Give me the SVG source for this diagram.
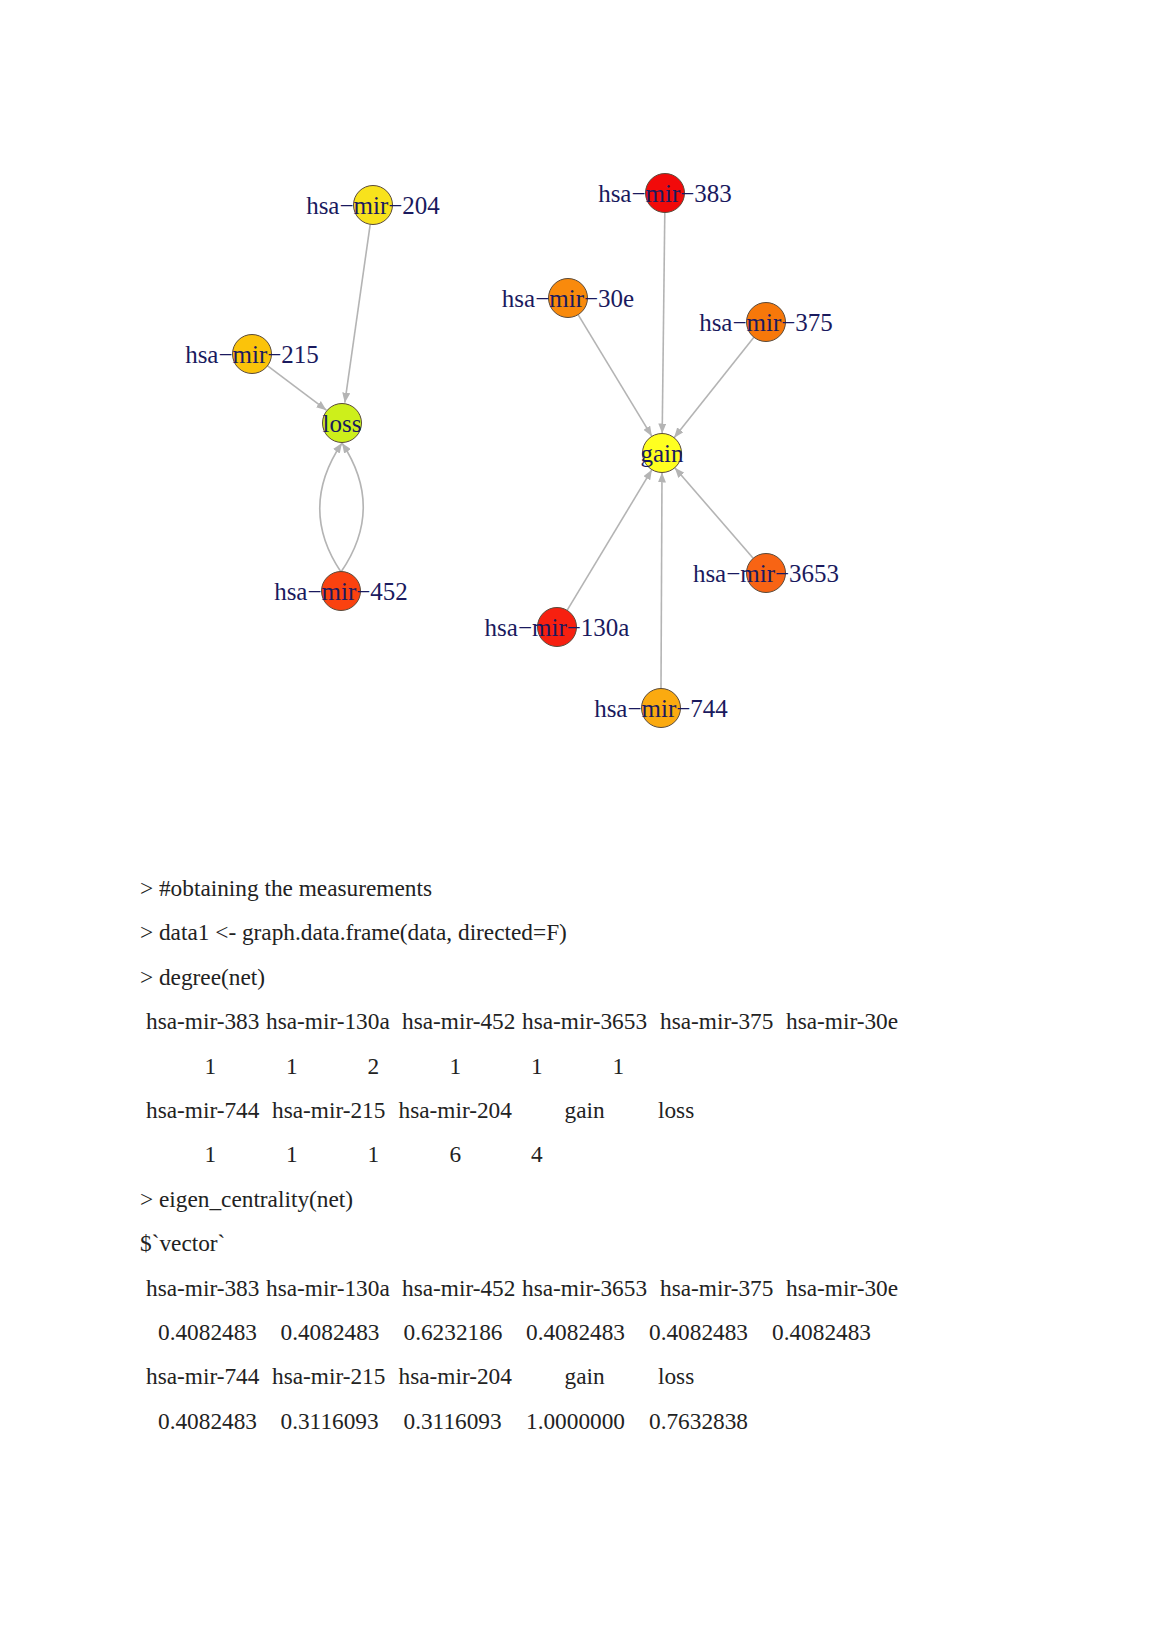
<svg xmlns="http://www.w3.org/2000/svg" width="1158" height="1638" viewBox="0 0 1158 1638">
<style>
.edge{fill:none;stroke:#b4b4b4;stroke-width:1.6}
.node circle{stroke:#5a4a3a;stroke-width:1}
.lbl{font-family:"Liberation Serif","Times New Roman",serif;font-size:25px;fill:#1a1a5e;text-anchor:middle}
.txt{font-family:"Liberation Serif","Times New Roman",serif;font-size:23.3px;fill:#222}
</style>
<defs>
<marker id="arr" markerUnits="userSpaceOnUse" markerWidth="10" markerHeight="8" viewBox="0 0 10 8" refX="10" refY="4" orient="auto">
<path d="M0,0 L10,4 L0,8 z" fill="#b4b4b4"/>
</marker>
</defs>
<rect width="1158" height="1638" fill="#fff"/>
<g id="connectors">
<line class="edge" x1="370.2" y1="224.3" x2="344.8" y2="402.7" marker-end="url(#arr)"/>
<line class="edge" x1="267.6" y1="365.8" x2="326.4" y2="410.2" marker-end="url(#arr)"/>
<path class="edge" d="M341,572 Q298,508 342,443" marker-end="url(#arr)"/>
<path class="edge" d="M341,572 Q385,508 342,443" marker-end="url(#arr)"/>
<line class="edge" x1="664.8" y1="212.5" x2="662.2" y2="433.5" marker-end="url(#arr)"/>
<line class="edge" x1="578.1" y1="314.7" x2="651.9" y2="436.3" marker-end="url(#arr)"/>
<line class="edge" x1="753.9" y1="337.3" x2="674.1" y2="437.7" marker-end="url(#arr)"/>
<line class="edge" x1="753.2" y1="558.3" x2="674.8" y2="467.7" marker-end="url(#arr)"/>
<line class="edge" x1="567.1" y1="610.3" x2="651.9" y2="469.7" marker-end="url(#arr)"/>
<line class="edge" x1="661" y1="688.5" x2="662" y2="472.5" marker-end="url(#arr)"/>
</g>
<g id="n-204" class="node"><circle cx="373" cy="205" r="19.5" fill="#f8e21c"/><text class="lbl" x="373" y="213.5">hsa−mir−204</text></g>
<g id="n-215" class="node"><circle cx="252" cy="354" r="19.5" fill="#fbc30a"/><text class="lbl" x="252" y="362.5">hsa−mir−215</text></g>
<g id="n-loss" class="node"><circle cx="342" cy="423" r="19.5" fill="#cdef1b"/><text class="lbl" x="342" y="431.5">loss</text></g>
<g id="n-452" class="node"><circle cx="341" cy="591" r="19.5" fill="#fa4210"/><text class="lbl" x="341" y="600">hsa−mir−452</text></g>
<g id="n-383" class="node"><circle cx="665" cy="193" r="19.5" fill="#f20a0a"/><text class="lbl" x="665" y="201.5">hsa−mir−383</text></g>
<g id="n-30e" class="node"><circle cx="568" cy="298" r="19.5" fill="#f98a0c"/><text class="lbl" x="568" y="306.5">hsa−mir−30e</text></g>
<g id="n-375" class="node"><circle cx="766" cy="322" r="19.5" fill="#f7780a"/><text class="lbl" x="766" y="330.5">hsa−mir−375</text></g>
<g id="n-gain" class="node"><circle cx="662" cy="453" r="19.5" fill="#ffff20"/><text class="lbl" x="662" y="461.5">gain</text></g>
<g id="n-3653" class="node"><circle cx="766" cy="573" r="19.5" fill="#f86414"/><text class="lbl" x="766" y="581.5">hsa−mir−3653</text></g>
<g id="n-130a" class="node"><circle cx="557" cy="627" r="19.5" fill="#f72010"/><text class="lbl" x="557" y="635.5">hsa−mir−130a</text></g>
<g id="n-744" class="node"><circle cx="661" cy="708" r="19.5" fill="#fbaa10"/><text class="lbl" x="661" y="716.5">hsa−mir−744</text></g>
<g id="console">
<text class="txt" x="140" y="896">&gt; #obtaining the measurements</text>
<text class="txt" x="140" y="940.4">&gt; data1 &lt;- graph.data.frame(data, directed=F)</text>
<text class="txt" x="140" y="984.8">&gt; degree(net)</text>
<text class="txt" y="1029.2"><tspan x="146">hsa-mir-383</tspan><tspan x="266">hsa-mir-130a</tspan><tspan x="402">hsa-mir-452</tspan><tspan x="522">hsa-mir-3653</tspan><tspan x="660">hsa-mir-375</tspan><tspan x="786">hsa-mir-30e</tspan></text>
<text class="txt" y="1073.6"><tspan x="204.5">1</tspan><tspan x="286">1</tspan><tspan x="367.5">2</tspan><tspan x="449.5">1</tspan><tspan x="531">1</tspan><tspan x="612.5">1</tspan></text>
<text class="txt" y="1118"><tspan x="146">hsa-mir-744</tspan><tspan x="272">hsa-mir-215</tspan><tspan x="398.5">hsa-mir-204</tspan><tspan x="564.5">gain</tspan><tspan x="658">loss</tspan></text>
<text class="txt" y="1162.4"><tspan x="204.5">1</tspan><tspan x="286">1</tspan><tspan x="367.5">1</tspan><tspan x="449.5">6</tspan><tspan x="531">4</tspan></text>
<text class="txt" x="140" y="1206.8">&gt; eigen_centrality(net)</text>
<text class="txt" x="140" y="1251.2">$`vector`</text>
<text class="txt" y="1295.6"><tspan x="146">hsa-mir-383</tspan><tspan x="266">hsa-mir-130a</tspan><tspan x="402">hsa-mir-452</tspan><tspan x="522">hsa-mir-3653</tspan><tspan x="660">hsa-mir-375</tspan><tspan x="786">hsa-mir-30e</tspan></text>
<text class="txt" y="1340"><tspan x="158">0.4082483</tspan><tspan x="280.5">0.4082483</tspan><tspan x="403.5">0.6232186</tspan><tspan x="526">0.4082483</tspan><tspan x="649">0.4082483</tspan><tspan x="772">0.4082483</tspan></text>
<text class="txt" y="1384.4"><tspan x="146">hsa-mir-744</tspan><tspan x="272">hsa-mir-215</tspan><tspan x="398.5">hsa-mir-204</tspan><tspan x="564.5">gain</tspan><tspan x="658">loss</tspan></text>
<text class="txt" y="1428.8"><tspan x="158">0.4082483</tspan><tspan x="280.5">0.3116093</tspan><tspan x="403.5">0.3116093</tspan><tspan x="526">1.0000000</tspan><tspan x="649">0.7632838</tspan></text>
</g>
</svg>
